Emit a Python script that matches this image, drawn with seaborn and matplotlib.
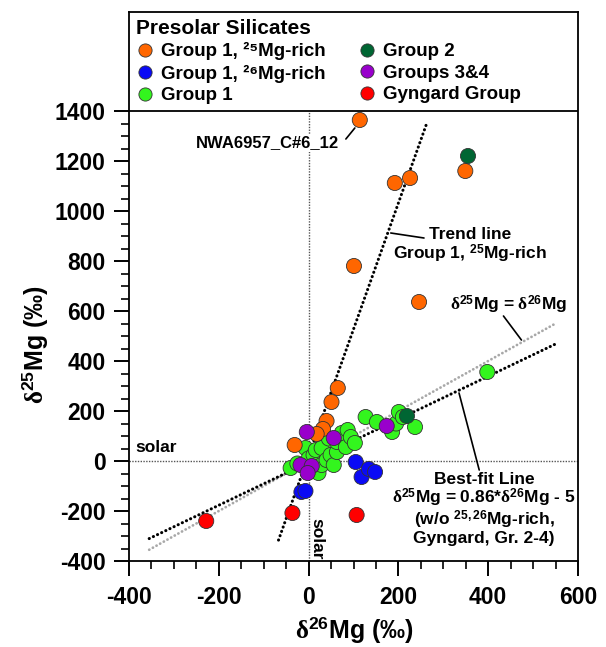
import numpy as np
import pandas as pd
import matplotlib
matplotlib.use("Agg")
import matplotlib.pyplot as plt
import seaborn as sns
from matplotlib.ticker import MultipleLocator, FixedLocator

# ---------------- data (delta26Mg, delta25Mg in permil) ----------------
green_x = [-40, -25, -7, 0, 11, 16, 16, 22, 29, 29, 40, 45, 49, 56, 63, 63, 74, 83, 87, 94, 103,
           127, 152, 186, 195, 201, 210, 237, 398]
green_y = [-28, -10, 52, 10, 24, 44, -36, -48, 52, -16, 4, 90, 24, -16, 36, 76, 112, 56, 124, 96, 72,
           176, 156, 116, 150, 196, 176, 136, 356]
blue_x = [105, 118, 134, 148, -16, -7]
blue_y = [-4, -64, -32, -44, -124, -120]
orange_x = [114, 192, 226, 349, 101, 246, 65, 51, 40, 32, 18, -31]
orange_y = [1364, 1112, 1132, 1160, 780, 636, 292, 236, 160, 128, 108, 64]
red_x = [-228, -36, 107]
red_y = [-240, -208, -216]
dkgreen_x = [355, 219]
dkgreen_y = [1220, 180]
purple_x = [-4, 56, 174, -18, 7, -2]
purple_y = [116, 92, 140, -16, -20, -48]

groups = ["Group 1, ²⁵Mg-rich", "Group 1, ²⁶Mg-rich", "Group 1",
          "Group 2", "Groups 3&4", "Gyngard Group"]
colors = ["#FF6600", "#0A0AF5", "#33F51E", "#006633", "#9900CC", "#FF0000"]

# fit lines: slope, intercept, x-range
trend_fit = (5.05, 22.0, -67.0, 264.0)
best_fit = (0.86, -5.0, -355.0, 550.0)
one_to_one = (1.0, 0.0, -355.0, 550.0)

# ---------------- style ----------------
sns.set_style("ticks")
plt.rcParams["font.family"] = ["Liberation Sans", "DejaVu Sans"]
plt.rcParams["font.weight"] = "bold"
plt.rcParams["mathtext.fontset"] = "custom"
plt.rcParams["mathtext.rm"] = "Liberation Serif"
plt.rcParams["mathtext.bf"] = "Liberation Sans:bold"
plt.rcParams["mathtext.it"] = "Liberation Serif:italic"
plt.rcParams["axes.unicode_minus"] = False
for key in ["text.color", "axes.labelcolor", "xtick.color", "ytick.color", "axes.edgecolor"]:
    plt.rcParams[key] = "black"

frames = []
order = [(2, green_x, green_y), (1, blue_x, blue_y), (0, orange_x, orange_y),
         (5, red_x, red_y), (3, dkgreen_x, dkgreen_y), (4, purple_x, purple_y)]
for gi, xs, ys in order:
    frames.append(pd.DataFrame({"d26": xs, "d25": ys, "group": groups[gi]}))
df = pd.concat(frames, ignore_index=True)

fig = plt.figure(figsize=(6.06, 6.47), dpi=100)
ax = fig.add_axes([129 / 606, 1 - 561 / 647, 449 / 606, 549 / 647])

ylo, yhi_tick = -400, 1400
ytop = yhi_tick + 99 * 4.0
ax.set_xlim(-400, 600)
ax.set_ylim(ylo, ytop)

# solar reference lines
ax.plot([0, 0], [ylo, yhi_tick], color="#555555", lw=1.0, ls=(0, (1, 1)), zorder=1)
ax.plot([-400, 600], [0, 0], color="#555555", lw=1.0, ls=(0, (1, 1)), zorder=1)

# 1:1 line and fits
for (m, b, x0, x1), col, lw in [(one_to_one, "#A8A8A8", 2.0), (best_fit, "black", 2.2),
                                 (trend_fit, "black", 2.2)]:
    xx = np.array([x0, x1])
    ax.plot(xx, m * xx + b, color=col, lw=lw, ls=(0, (0.05, 1.45)), dash_capstyle="round", zorder=2)

palette = dict(zip(groups, colors))
sns.scatterplot(data=df, x="d26", y="d25", hue="group", hue_order=groups, palette=palette,
                s=118, edgecolor="#333333", linewidth=0.6, ax=ax, zorder=3, legend=True)

handles, labels = ax.get_legend_handles_labels()
ax.get_legend().remove()
for h in handles:
    h.set_markeredgecolor("#333333")
    h.set_markeredgewidth(0.6)
    h.set_markersize(9.5)
leg = ax.legend(handles, labels, ncol=2, loc="upper left", bbox_to_anchor=(0.0, 1.0),
                frameon=False, title="Presolar Silicates", alignment="left",
                prop={"size": 13.5, "weight": "bold"},
                title_fontproperties={"size": 15, "weight": "bold"},
                handletextpad=0.35, columnspacing=1.7, labelspacing=0.24, borderaxespad=0.0,
                borderpad=0.35, handlelength=1.0)

# top line at 1400 separating legend
ax.axhline(yhi_tick, color="black", lw=1.3, zorder=4)

# ticks
ax.xaxis.set_major_locator(MultipleLocator(200))
ax.xaxis.set_minor_locator(MultipleLocator(50))
ax.yaxis.set_major_locator(FixedLocator(np.arange(-400, 1401, 200)))
ax.yaxis.set_minor_locator(FixedLocator(np.arange(-400, 1401, 50)))
ax.tick_params(axis="both", which="major", length=10.8, width=1.4, labelsize=16.5, direction="out")
ax.tick_params(axis="both", which="minor", length=5.8, width=1.2, direction="out")
ax.tick_params(axis="y", which="major", pad=6)
ax.tick_params(axis="x", which="major", pad=7)
ax.tick_params(right=False, top=False, which="both")
for sp in ax.spines.values():
    sp.set_linewidth(1.3)
    sp.set_color("black")

ax.set_xlabel("$\\mathrm{δ}^{\\mathbf{26}}$Mg (‰)", fontsize=18, fontweight="bold")
ax.set_ylabel("$\\mathrm{δ}^{\\mathbf{25}}$Mg (‰)", fontsize=18, fontweight="bold")
ax.xaxis.set_label_coords(0.502, -0.098)
ax.yaxis.set_label_coords(-0.175, 0.395)

# annotations
ax.text(67, 1272, "NWA6957_C#6_12", ha="right", va="center", fontsize=12, fontweight="bold",
        bbox=dict(facecolor="white", edgecolor="none", pad=1), zorder=2)
ax.plot([83, 103], [1288, 1332], color="black", lw=1.2, zorder=2)

ax.text(360, 860, "Trend line\nGroup 1, $^{\\mathbf{25}}$Mg-rich", ha="center", va="center",
        fontsize=12.5, fontweight="bold", linespacing=1.1)
ax.plot([183, 257], [912, 892], color="black", lw=1.2)

ax.text(445, 624, "$\\mathrm{δ}^{\\mathbf{25}}$Mg = $\\mathrm{δ}^{\\mathbf{26}}$Mg", ha="center",
        va="center", fontsize=12.5, fontweight="bold")
ax.plot([434, 474], [580, 484], color="black", lw=1.2)

ax.text(391, -192, "Best-fit Line\n$\\mathrm{δ}^{\\mathbf{25}}$Mg = 0.86*$\\mathrm{δ}^{\\mathbf{26}}$Mg - 5\n"
        "(w/o $^{\\mathbf{25,26}}$Mg-rich,\nGyngard, Gr. 2-4)", ha="center", va="center",
        fontsize=12.5, fontweight="bold", linespacing=1.0)
ax.plot([335, 380], [272, -36], color="black", lw=1.2)

ax.text(-385, 56, "solar", ha="left", va="center", fontsize=12.5, fontweight="bold")
ax.text(18, -312, "solar", ha="center", va="center", rotation=-90, fontsize=12.5, fontweight="bold")

fig.savefig("out.png", dpi=100)
